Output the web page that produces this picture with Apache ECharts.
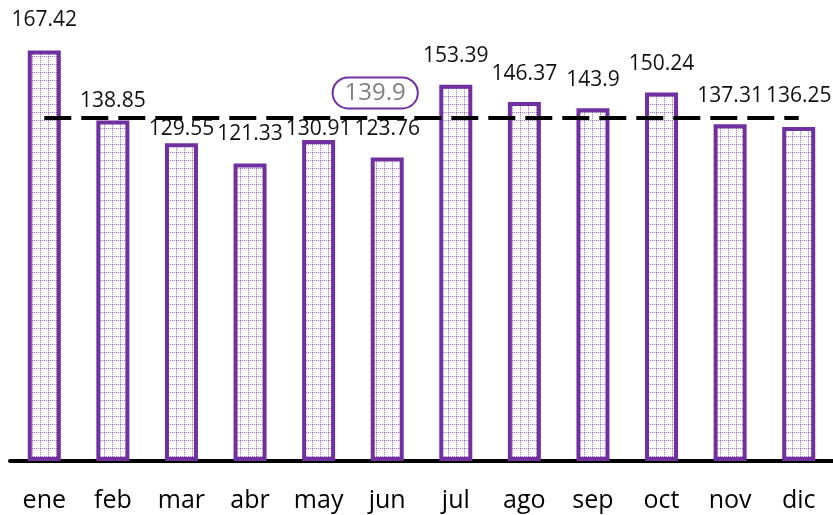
<!DOCTYPE html>
<html>
<head>
<meta charset="utf-8">
<script src="https://cdn.jsdelivr.net/npm/echarts@6/dist/echarts.min.js"></script>
<style>
  html, body { margin: 0; padding: 0; background: #fff; }
  #chart { width: 833px; height: 515px; }
</style>
</head>
<body>
<div id="chart"></div>
<script>
// meses y valores
var months = ["ene", "feb", "mar", "abr", "may", "jun", "jul", "ago", "sep", "oct", "nov", "dic"];
var values = [167.42, 138.85, 129.55, 121.33, 130.91, 123.76, 153.39, 146.37, 143.9, 150.24, 137.31, 136.25];
var average = 139.9;

// distancia de cada etiqueta sobre su barra (algunas movidas a mano en el original)
var labelGap = [20, 9, 4, 19, 0, 18, 18, 18, 18, 18, 18, 20];

var purple = "#7030a0";

// trama de cuadricula pequeña
function gridPattern() {
  var c = document.createElement("canvas");
  c.width = 8; c.height = 8;
  var ctx = c.getContext("2d");
  ctx.fillStyle = "#ffffff";
  ctx.fillRect(0, 0, 8, 8);
  ctx.fillStyle = "rgba(112,48,160,0.6)";
  for (var i = 0; i < 8; i += 2) {
    ctx.fillRect(0, i, 1, 1);
    ctx.fillRect(i, 0, 1, 1);
  }
  ctx.fillStyle = "rgba(112,48,160,0.15)";
  for (var j = 1; j < 8; j += 2) {
    ctx.fillRect(0, j, 1, 1);
    ctx.fillRect(j, 0, 1, 1);
  }
  return c;
}
var pattern = { image: gridPattern(), repeat: "repeat" };

var chart = echarts.init(document.getElementById("chart"));

var barData = values.map(function (v, i) {
  return { value: v, label: { distance: labelGap[i] } };
});

var avgData = months.map(function (m, i) {
  if (i === 5) {
    return {
      value: average,
      label: {
        show: true,
        position: "top",
        distance: 10,
        offset: [-12, 0],
        formatter: function (p) { return p.value; },
        color: "#7f7f7f",
        fontSize: 24,
        fontFamily: "Open Sans",
        backgroundColor: "#fff",
        borderColor: purple,
        borderWidth: 2,
        borderRadius: 15,
        padding: [3, 11, 2, 11]
      }
    };
  }
  return average;
});

chart.setOption({
  animation: false,
  grid: { left: 10, top: 0, width: 834, bottom: 54, containLabel: false },
  xAxis: {
    type: "category",
    data: months,
    axisLine: { show: true, lineStyle: { color: "#000", width: 4 } },
    axisTick: { show: false },
    axisLabel: { color: "#000", fontSize: 25, fontFamily: "Open Sans", margin: 27 }
  },
  yAxis: {
    type: "value",
    min: 0,
    max: 188,
    show: false,
    splitLine: { show: false }
  },
  series: [
    {
      type: "bar",
      data: barData,
      barWidth: 33,
      itemStyle: { color: pattern, borderColor: purple, borderWidth: 4 },
      label: {
        show: true,
        position: "top",
        color: "#111",
        fontSize: 21,
        fontFamily: "Open Sans"
      },
      z: 2
    },
    {
      type: "line",
      data: avgData,
      symbol: "circle",
      symbolSize: 1,
      showAllSymbol: true,
      itemStyle: { color: "rgba(0,0,0,0)" },
      lineStyle: { color: "#000", width: 4, type: [27, 10] },
      z: 3
    }
  ]
});
</script>
</body>
</html>
